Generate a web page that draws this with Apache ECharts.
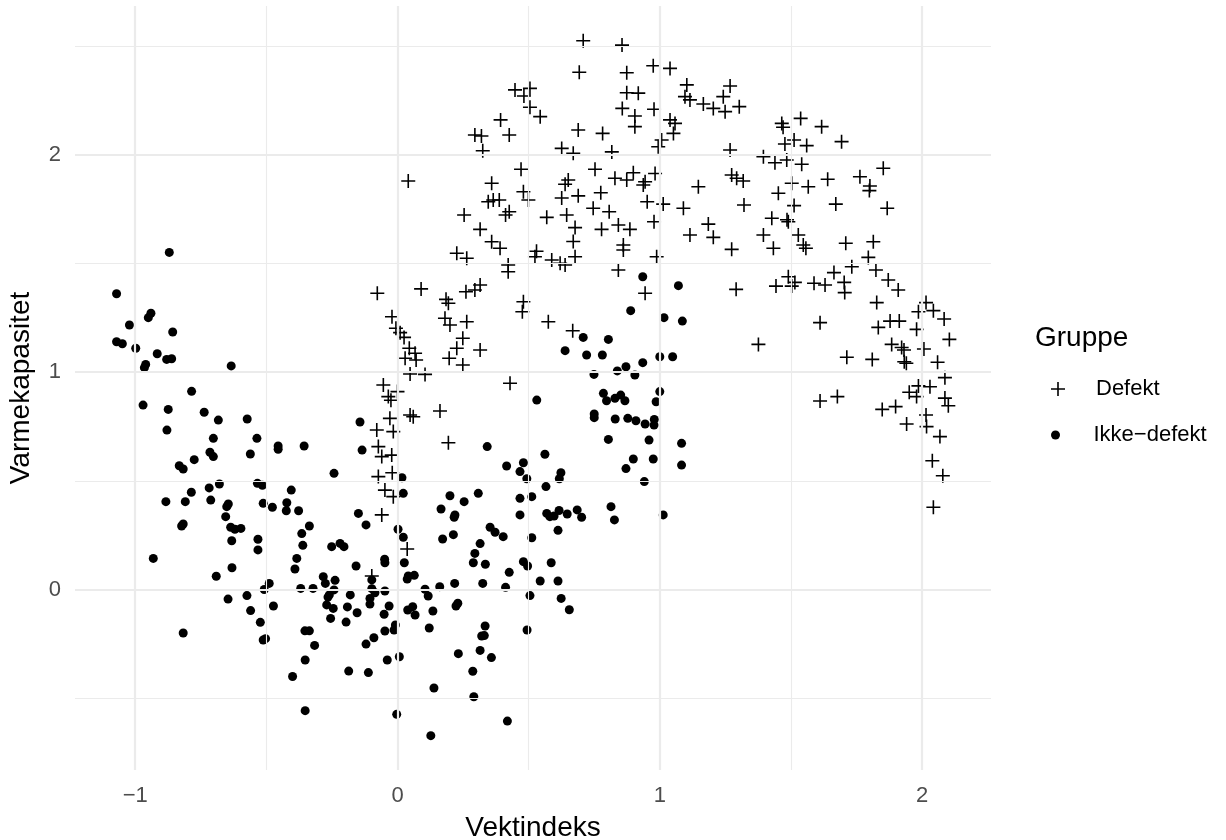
<!DOCTYPE html>
<html>
<head>
<meta charset="utf-8">
<script src="https://cdn.jsdelivr.net/npm/echarts@6/dist/echarts.min.js"></script>
<style>
html,body{margin:0;padding:0;background:#fff;}
#chart{width:1226px;height:840px;}
</style>
</head>
<body>
<div id="chart"></div>
<script>
// ---- Data ----
const seriesNames = ['Defekt', 'Ikke\u2212defekt'];
const xTickValues = [-1, 0, 1, 2];
const yTickValues = [0, 1, 2];
const xMinorValues = [-0.5, 0.5, 1.5];
const yMinorValues = [-0.5, 0.5, 1.5, 2.5];
const xRange = [-1.2295, 2.2627];
const yRange = [-0.8299, 2.6828];

const defekt = [
[0.708,2.523],[0.856,2.503],[0.693,2.378],[0.874,2.376],[0.975,2.408],[1.039,2.396],
[0.448,2.297],[0.505,2.304],[0.482,2.269],[0.505,2.217],[0.544,2.174],
[0.874,2.284],[0.918,2.282],[0.857,2.212],[0.905,2.177],[0.905,2.128],[0.978,2.208],
[1.039,2.159],[1.058,2.143],[1.052,2.097],[1.007,2.067],[0.994,2.036],
[0.393,2.159],[0.295,2.09],[0.32,2.085],[0.325,2.017],[0.426,2.09],
[0.689,2.113],[0.782,2.097],[0.626,2.028],[0.670,2.006],[0.817,2.012],
[0.041,1.878],[0.471,1.932],[0.753,1.932],[0.359,1.868],[0.651,1.883],[0.639,1.863],
[0.829,1.891],[0.874,1.883],[0.899,1.916],[0.944,1.875],[0.937,1.860],[0.982,1.913],
[0.346,1.783],[0.365,1.791],[0.388,1.791],[0.480,1.829],[0.499,1.791],[0.626,1.80],[0.689,1.81],[0.775,1.824],
[0.952,1.783],[1.013,1.772],[0.254,1.722],[0.412,1.722],[0.426,1.737],[0.569,1.711],[0.645,1.722],[0.746,1.753],[0.807,1.737],
[0.677,1.664],[0.778,1.656],[0.842,1.676],[0.886,1.656],[0.978,1.691],[0.315,1.656],
[0.359,1.599],[0.391,1.569],[0.67,1.60],[0.861,1.584],[0.861,1.561],
[0.226,1.546],[0.264,1.523],[0.422,1.492],[0.422,1.461],[0.524,1.530],[0.53,1.555],[0.588,1.515],[0.620,1.50],[0.639,1.492],[0.677,1.53],[0.842,1.469],[0.988,1.53],[0.944,1.362],
[-0.077,1.362],[0.09,1.382],[0.185,1.334],[0.194,1.316],[0.261,1.369],[0.295,1.377],[0.315,1.400],
[0.480,1.323],[0.476,1.277],[0.575,1.231],[0.668,1.19],
[-0.021,1.254],[-0.006,1.201],[0.010,1.181],[0.025,1.159],
[0.045,1.109],[0.067,1.086],[0.029,1.063],[0.071,1.055],
[0.181,1.247],[0.200,1.216],[0.264,1.231],[0.249,1.155],[0.226,1.109],[0.315,1.101],[0.197,1.063],[0.249,1.032],
[0.048,0.991],[0.105,0.989],[-0.054,0.94],[-0.035,0.887],[0.0,0.91],[-0.025,0.87],[0.429,0.948],
[0.162,0.821],[0.048,0.802],[0.060,0.794],[-0.029,0.787],[-0.079,0.733],[-0.016,0.726],[0.194,0.675],
[-0.073,0.657],[-0.060,0.611],[-0.022,0.618],[-0.073,0.519],[-0.020,0.537],[-0.048,0.457],[-0.016,0.427],
[-0.06,0.343],[0.037,0.186],[-0.098,0.062],
[1.103,2.32],[1.096,2.266],[1.115,2.251],[1.166,2.232],[1.204,2.212],[1.249,2.197],[1.268,2.315],[1.242,2.266],[1.303,2.22],
[1.465,2.143],[1.47,2.125],[1.537,2.166],[1.617,2.128],[1.693,2.059],[1.477,2.048],[1.512,2.067],[1.560,2.041],
[1.268,2.021],[1.395,1.990],[1.439,1.962],[1.484,1.975],[1.541,1.955],[1.852,1.937],[1.763,1.898],[1.801,1.855],[1.799,1.834],
[1.64,1.886],[1.274,1.906],[1.293,1.891],[1.318,1.878],[1.147,1.852],[1.452,1.822],[1.503,1.868],[1.566,1.852],
[1.09,1.753],[1.321,1.768],[1.512,1.765],[1.671,1.772],[1.867,1.753],[1.427,1.707],[1.49,1.691],[1.485,1.70],
[1.185,1.680],[1.204,1.619],[1.115,1.630],[1.395,1.630],[1.433,1.569],[1.528,1.630],[1.547,1.584],[1.557,1.569],
[1.709,1.592],[1.814,1.599],[1.274,1.564],
[1.795,1.527],[1.732,1.484],[1.664,1.457],[1.824,1.469],[1.871,1.423],[1.909,1.377],[1.703,1.412],[1.705,1.365],[1.630,1.400],[1.588,1.408],
[1.490,1.438],[1.515,1.412],[1.503,1.395],[1.443,1.395],[1.291,1.38],[1.827,1.319],[1.611,1.227],[1.376,1.127],
[1.878,1.234],[1.913,1.234],[1.833,1.205],[1.979,1.196],[2.015,1.319],[1.986,1.277],[2.043,1.282],[2.084,1.244],[2.104,1.15],
[1.884,1.127],[1.922,1.113],[1.931,1.101],[1.932,1.047],[1.94,1.04],[2.007,1.106],[1.713,1.068],[1.81,1.058],[2.059,1.045],[2.087,0.974],
[1.986,0.936],[1.951,0.907],[2.030,0.932],[1.979,0.887],[2.087,0.88],[2.1,0.845],[1.611,0.867],[1.677,0.887],[1.848,0.828],[1.899,0.841],
[2.015,0.802],[1.941,0.761],[2.017,0.749],[2.068,0.703],[2.039,0.592],[2.079,0.523],[2.043,0.378]
];

const ikkeDefekt = [
[-0.87,1.55],[-1.071,1.36],[-0.95,1.25],[-0.94,1.27],[-1.022,1.216],[-0.857,1.184],[-1.071,1.139],[-1.049,1.130],[-0.998,1.109],[-0.916,1.084],[-0.880,1.058],[-0.861,1.061],[-0.965,1.02],[-0.96,1.035],[-0.634,1.028],
[-0.785,0.911],[-0.970,0.848],[-0.874,0.828],[-0.737,0.815],[-0.683,0.779],[-0.573,0.784],[-0.879,0.733],[-0.702,0.695],[-0.536,0.695],
[-0.455,0.66],[-0.455,0.645],[-0.356,0.66],[-0.715,0.631],[-0.702,0.611],[-0.561,0.623],[-0.775,0.597],[-0.832,0.569],[-0.817,0.554],[-0.242,0.534],
[-0.143,0.770],[-0.135,0.641],[-0.679,0.485],[-0.718,0.467],[-0.534,0.488],[-0.515,0.479],[-0.405,0.457],[-0.786,0.447],
[-0.883,0.404],[-0.809,0.404],[-0.712,0.411],[-0.645,0.393],[-0.651,0.381],[-0.512,0.396],[-0.477,0.378],[-0.422,0.399],[-0.424,0.362],[-0.377,0.362],[-0.149,0.350],[-0.120,0.297],
[-0.817,0.301],[-0.823,0.292],[-0.655,0.335],[-0.636,0.286],[-0.620,0.277],[-0.597,0.281],[-0.336,0.292],[-0.365,0.257],[-0.632,0.224],[-0.532,0.231],[-0.532,0.182],[-0.361,0.203],[-0.251,0.197],[-0.219,0.212],[-0.204,0.197],
[-0.931,0.143],[-0.384,0.143],[-0.631,0.100],[-0.391,0.094],[-0.158,0.108],[-0.691,0.061],[-0.283,0.059],[-0.275,0.028],[-0.238,0.042],[-0.489,0.028],[-0.508,0.0],[-0.369,0.005],[-0.322,0.005],
[-0.242,-0.002],[-0.26,-0.025],[-0.265,-0.035],[-0.18,-0.025],[-0.646,-0.044],[-0.574,-0.028],[-0.473,-0.076],[-0.56,-0.097],[-0.27,-0.071],[-0.245,-0.087],[-0.191,-0.080],[-0.154,-0.107],[-0.255,-0.133],[-0.196,-0.15],[-0.523,-0.151],
[-0.817,-0.20],[-0.353,-0.19],[-0.336,-0.19],[-0.512,-0.232],[-0.503,-0.226],[-0.316,-0.257],[-0.120,-0.251],[-0.352,-0.324],[-0.186,-0.375],[-0.111,-0.382],[-0.40,-0.40],[-0.352,-0.557],
[0.935,1.438],[0.889,1.282],[1.016,1.25],[0.708,1.159],[0.804,1.15],[0.639,1.098],[0.721,1.078],[0.781,1.078],[1.0,1.07],[1.049,1.07],[0.935,1.043],[0.871,1.024],[0.838,1.005],[0.749,0.989],[0.905,0.986],
[1.0,0.91],[0.986,0.863],[0.785,0.902],[0.797,0.868],[0.829,0.879],[0.851,0.894],[0.867,0.868],[0.531,0.871],[0.750,0.807],[0.750,0.790],[0.830,0.784],[0.878,0.787],[0.909,0.776],[0.944,0.761],[0.979,0.782],[0.978,0.756],
[0.804,0.69],[0.959,0.687],[0.342,0.657],[0.562,0.622],[0.899,0.60],[0.975,0.60],[0.48,0.583],[0.416,0.568],[0.467,0.542],[0.493,0.509],[0.623,0.537],[0.617,0.509],[0.871,0.556],[0.941,0.496],[0.566,0.473],
[0.017,0.514],[0.022,0.442],[0.20,0.431],[0.308,0.442],[0.254,0.404],[0.467,0.419],[0.512,0.427],
[1.071,1.397],[1.086,1.234],[1.083,0.672],[1.083,0.572],
[0.166,0.37],[0.219,0.343],[0.216,0.332],[0.467,0.343],[0.569,0.350],[0.581,0.335],[0.597,0.338],[0.616,0.363],[0.647,0.347],[0.685,0.366],[0.702,0.332],[0.814,0.381],[0.827,0.32],[1.013,0.343],
[0.002,0.277],[0.022,0.24],[0.172,0.232],[0.213,0.252],[0.353,0.286],[0.372,0.263],[0.403,0.243],[0.512,0.238],[0.612,0.272],[0.315,0.211],[0.295,0.166],[0.289,0.123],[0.335,0.116],
[-0.049,0.139],[-0.048,0.123],[0.026,0.123],[0.041,0.062],[0.064,0.065],[0.037,0.048],
[-0.098,0.044],[-0.098,0.004],[-0.086,-0.015],[-0.105,-0.041],[-0.105,-0.067],[-0.048,-0.007],[-0.032,-0.076],[-0.051,-0.114],[-0.048,-0.191],[-0.013,-0.186],[-0.008,-0.163],[-0.090,-0.222],
[-0.039,-0.324],[0.007,-0.309],[-0.003,-0.574],
[0.105,0.001],[0.117,-0.030],[0.161,0.013],[0.218,0.028],[0.325,0.028],[0.412,0.01],[0.426,0.079],[0.480,0.128],[0.496,0.108],[0.544,0.039],[0.586,0.123],[0.612,0.039],[0.505,-0.028],[0.624,-0.041],[0.655,-0.093],
[0.039,-0.094],[0.058,-0.079],[0.067,-0.117],[0.135,-0.099],[0.121,-0.177],[0.223,-0.076],[0.230,-0.063],[0.334,-0.168],[0.321,-0.214],[0.331,-0.212],[0.494,-0.186],[0.315,-0.28],[0.358,-0.313],[0.232,-0.295],[0.287,-0.376],[0.139,-0.453],[0.291,-0.493],[0.419,-0.605],[0.127,-0.672]
];

// ---- Rendering ----
const FONT = '"Liberation Sans", Arial, Helvetica, sans-serif';
const PLUS = 'path://M6.2,0H7.8V6.2H14V7.8H7.8V14H6.2V7.8H0V6.2H6.2Z';
const GRID_COLOR = '#EBEBEB';
const fmt = v => String(v).replace('-', '\u2212');

const gridLines = []
  .concat(xMinorValues.map(v => ({xAxis: v, lineStyle: {width: 1.1}})))
  .concat(yMinorValues.map(v => ({yAxis: v, lineStyle: {width: 1.1}})))
  .concat(xTickValues.map(v => ({xAxis: v, lineStyle: {width: 2.2}})))
  .concat(yTickValues.map(v => ({yAxis: v, lineStyle: {width: 2.2}})));

const chart = echarts.init(document.getElementById('chart'), null, {renderer: 'canvas'});
chart.setOption({
  animation: false,
  backgroundColor: '#fff',
  textStyle: {fontFamily: FONT},
  grid: {left: 75, right: 235, top: 6, bottom: 70, containLabel: false, outerBoundsMode: 'none'},
  title: {
    text: 'Gruppe', left: 1030, top: 319,
    textStyle: {fontFamily: FONT, fontSize: 28, fontWeight: 'normal', color: '#000'}
  },
  legend: [
    {
      data: [{name: seriesNames[0], icon: PLUS}],
      left: 1046, top: 373, itemWidth: 66, itemHeight: 14, selectedMode: false,
      textStyle: {fontFamily: FONT, fontSize: 22, color: '#000'}
    },
    {
      data: [{name: seriesNames[1], icon: 'circle'}],
      left: 1046, top: 419, itemWidth: 66, itemHeight: 9, selectedMode: false,
      textStyle: {fontFamily: FONT, fontSize: 22, color: '#000'}
    }
  ],
  xAxis: {
    type: 'value', min: xRange[0], max: xRange[1],
    name: 'Vektindeks', nameLocation: 'middle', nameGap: 44,
    nameTextStyle: {fontFamily: FONT, fontSize: 28, color: '#000'},
    axisLine: {show: false}, axisTick: {show: false}, splitLine: {show: false},
    axisLabel: {customValues: xTickValues, formatter: fmt, color: '#4D4D4D',
      fontFamily: FONT, fontSize: 22, margin: 15}
  },
  yAxis: {
    type: 'value', min: yRange[0], max: yRange[1],
    name: 'Varmekapasitet', nameLocation: 'middle', nameGap: 40, nameRotate: 90,
    nameTextStyle: {fontFamily: FONT, fontSize: 28, color: '#000'},
    axisLine: {show: false}, axisTick: {show: false}, splitLine: {show: false},
    axisLabel: {customValues: yTickValues, formatter: fmt, color: '#4D4D4D',
      fontFamily: FONT, fontSize: 22, margin: 14}
  },
  series: [
    {
      name: '_grid', type: 'scatter', data: [], z: 0, silent: true,
      markLine: {
        silent: true, symbol: ['none', 'none'], label: {show: false},
        lineStyle: {color: GRID_COLOR, type: 'solid'}, emphasis: {disabled: true},
        animation: false, data: gridLines
      }
    },
    {
      name: seriesNames[0], type: 'scatter', data: defekt, z: 3,
      symbol: PLUS, symbolSize: 14,
      itemStyle: {color: '#000', opacity: 1}
    },
    {
      name: seriesNames[1], type: 'scatter', data: ikkeDefekt, z: 3,
      symbol: 'circle', symbolSize: 9,
      itemStyle: {color: '#000', opacity: 1}
    }
  ]
});
</script>
</body>
</html>
